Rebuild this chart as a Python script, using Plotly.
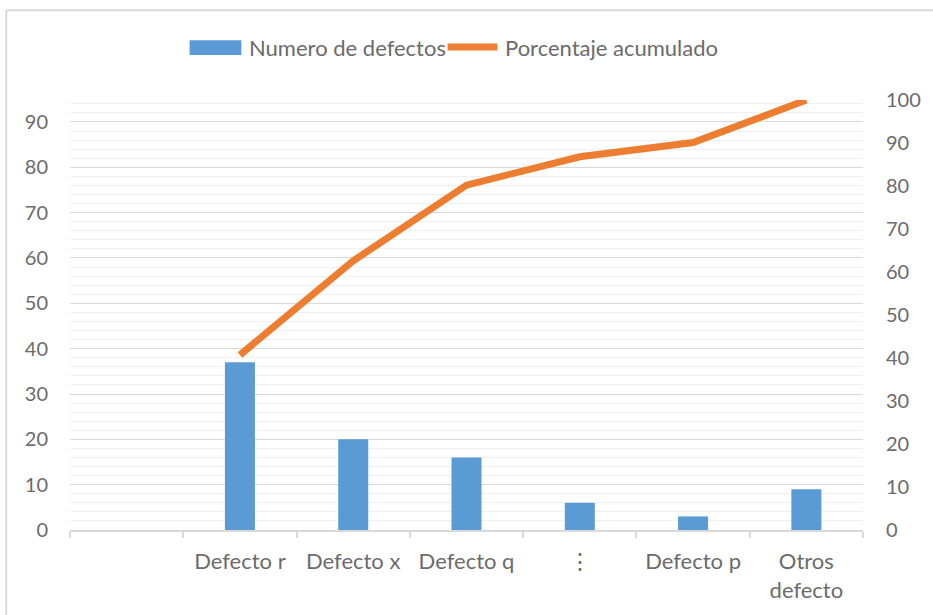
import plotly.graph_objects as go

categories = [" ", "Defecto r", "Defecto x", "Defecto q", "⋮", "Defecto p", "Otros<br>defecto"]
bar_categories = categories[1:]
defect_counts = [37, 20, 16, 6, 3, 9]
cumulative_pct = [40.7, 62.6, 80.2, 86.8, 90.1, 100.0]
left_ticks = [0, 10, 20, 30, 40, 50, 60, 70, 80, 90]
right_ticks = [0, 10, 20, 30, 40, 50, 60, 70, 80, 90, 100]
series_names = ["Numero de defectos", "Porcentaje acumulado"]

font_family = "Lato, 'Open Sans', sans-serif"
grey_text = "#6b6b6b"
fs = 20
fs_text = 22
BLUE = "#5B9BD5"
ORANGE = "#ED7D31"

fig = go.Figure()
fig.add_trace(go.Bar(
    x=bar_categories, y=defect_counts, name=series_names[0],
    marker=dict(color=BLUE, line=dict(width=0)), width=0.265, showlegend=False,
))
fig.add_trace(go.Scatter(
    x=bar_categories, y=cumulative_pct, name=series_names[1],
    mode="lines", line=dict(color=ORANGE, width=7), yaxis="y2", showlegend=False,
))

b = "#d9d9d9"
shapes = [
    # chart border (top and left edges visible)
    dict(type="line", xref="paper", yref="paper", x0=-0.0804, x1=1.1, y0=1.2088, y1=1.2088,
         line=dict(color=b, width=2)),
    dict(type="line", xref="paper", yref="paper", x0=-0.0804, x1=-0.0804, y0=1.2088, y1=-0.3,
         line=dict(color=b, width=2)),
    # legend swatches
    dict(type="rect", xref="paper", yref="paper", x0=0.1508, x1=0.2161, y0=1.1044, y1=1.1392,
         fillcolor=BLUE, line=dict(width=0)),
    dict(type="line", xref="paper", yref="paper", x0=0.4761, x1=0.5389, y0=1.123, y1=1.123,
         line=dict(color=ORANGE, width=7)),
]
annotations = [
    dict(xref="paper", yref="paper", x=0.2236, y=1.123, xanchor="left", yanchor="middle",
         text=series_names[0], showarrow=False, font=dict(size=fs_text, color=grey_text)),
    dict(xref="paper", yref="paper", x=0.5465, y=1.123, xanchor="left", yanchor="middle",
         text=series_names[1], showarrow=False, font=dict(size=fs_text, color=grey_text)),
]

fig.update_layout(
    width=933, height=615,
    margin=dict(l=70, r=67, t=100, b=84),
    paper_bgcolor="white", plot_bgcolor="white",
    font=dict(family=font_family, size=fs, color=grey_text),
    shapes=shapes, annotations=annotations,
    showlegend=False,
    xaxis=dict(
        type="category", categoryorder="array", categoryarray=categories,
        range=[-0.5, 6.5], tickson="boundaries", ticks="outside", ticklen=6,
        tickcolor=b, tickwidth=2, showline=True, linecolor=b, linewidth=2, showgrid=False,
        tickfont=dict(size=fs_text, color=grey_text), ticklabelstandoff=11,
    ),
    yaxis=dict(
        range=[0, 94.85], tickvals=left_ticks, showline=False, zeroline=False,
        gridcolor="#d9d9d9", gridwidth=1,
        minor=dict(dtick=2, tick0=0, showgrid=True, gridcolor="#f0f0f0", gridwidth=1),
        tickfont=dict(size=fs, color=grey_text), ticklabelstandoff=21,
    ),
    yaxis2=dict(
        range=[0, 100], tickvals=right_ticks, overlaying="y", side="right",
        showgrid=False, zeroline=False, showline=False,
        tickfont=dict(size=fs, color=grey_text), ticklabelstandoff=22,
    ),
)

fig.write_html("out.html", config={"displayModeBar": False},
               post_script="document.body.style.margin='0';document.body.style.overflow='hidden';")
